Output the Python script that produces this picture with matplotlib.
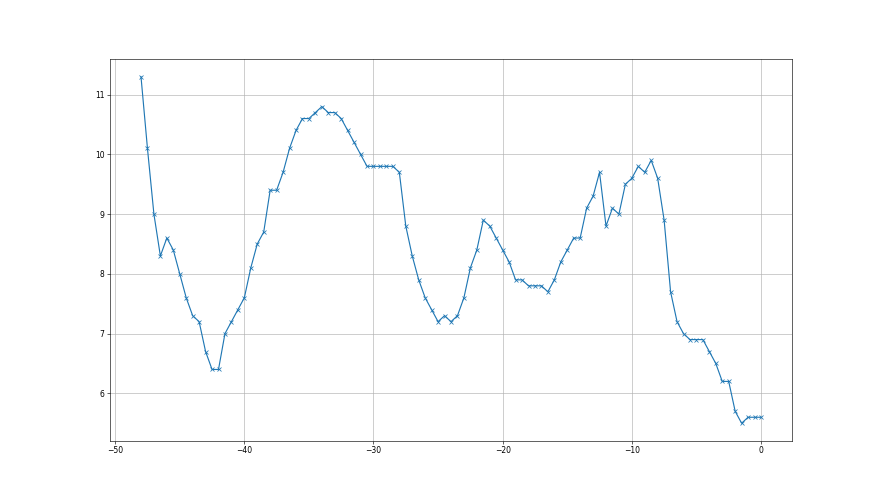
import numpy as np
import matplotlib

matplotlib.use("Agg")
import matplotlib.pyplot as plt

# x positions: every half unit from -48 to 0
days = [
    -48.0, -47.5, -47.0, -46.5, -46.0, -45.5, -45.0, -44.5, -44.0, -43.5,
    -43.0, -42.5, -42.0, -41.5, -41.0, -40.5, -40.0, -39.5, -39.0, -38.5,
    -38.0, -37.5, -37.0, -36.5, -36.0, -35.5, -35.0, -34.5, -34.0, -33.5,
    -33.0, -32.5, -32.0, -31.5, -31.0, -30.5, -30.0, -29.5, -29.0, -28.5,
    -28.0, -27.5, -27.0, -26.5, -26.0, -25.5, -25.0, -24.5, -24.0, -23.5,
    -23.0, -22.5, -22.0, -21.5, -21.0, -20.5, -20.0, -19.5, -19.0, -18.5,
    -18.0, -17.5, -17.0, -16.5, -16.0, -15.5, -15.0, -14.5, -14.0, -13.5,
    -13.0, -12.5, -12.0, -11.5, -11.0, -10.5, -10.0, -9.5, -9.0, -8.5,
    -8.0, -7.5, -7.0, -6.5, -6.0, -5.5, -5.0, -4.5, -4.0, -3.5,
    -3.0, -2.5, -2.0, -1.5, -1.0, -0.5, 0.0,
]
values = [
    11.3, 10.1, 9.0, 8.3, 8.6, 8.4, 8.0, 7.6, 7.3, 7.2,
    6.7, 6.4, 6.4, 7.0, 7.2, 7.4, 7.6, 8.1, 8.5, 8.7,
    9.4, 9.4, 9.7, 10.1, 10.4, 10.6, 10.6, 10.7, 10.8, 10.7,
    10.7, 10.6, 10.4, 10.2, 10.0, 9.8, 9.8, 9.8, 9.8, 9.8,
    9.7, 8.8, 8.3, 7.9, 7.6, 7.4, 7.2, 7.3, 7.2, 7.3,
    7.6, 8.1, 8.4, 8.9, 8.8, 8.6, 8.4, 8.2, 7.9, 7.9,
    7.8, 7.8, 7.8, 7.7, 7.9, 8.2, 8.4, 8.6, 8.6, 9.1,
    9.3, 9.7, 8.8, 9.1, 9.0, 9.5, 9.6, 9.8, 9.7, 9.9,
    9.6, 8.9, 7.7, 7.2, 7.0, 6.9, 6.9, 6.9, 6.7, 6.5,
    6.2, 6.2, 5.7, 5.5, 5.6, 5.6, 5.6,
]

fig, ax = plt.subplots(figsize=(16, 9), dpi=55)
ax.plot(np.array(days), np.array(values), marker="x", color="#1f77b4")
ax.grid(True)
fig.savefig("out.png")
plt.close(fig)
